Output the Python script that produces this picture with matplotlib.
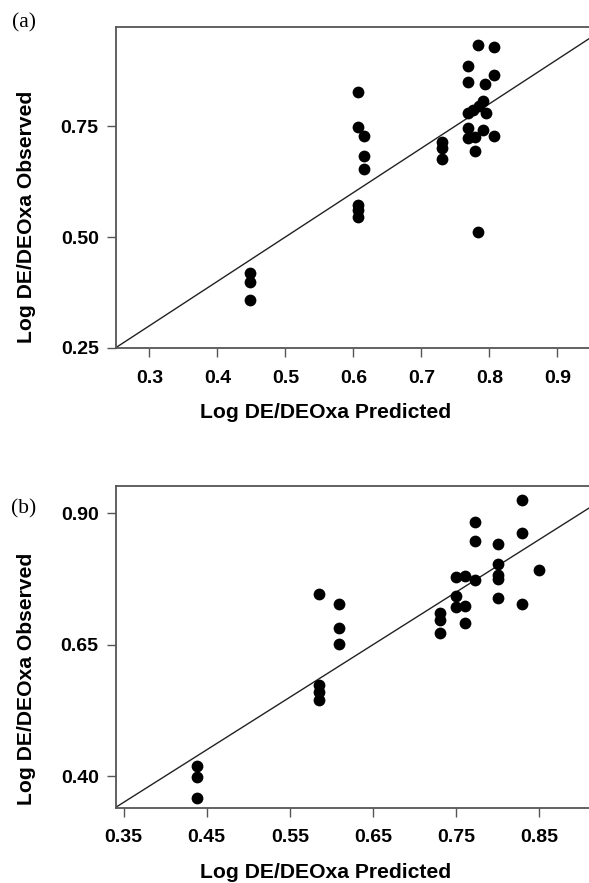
import matplotlib
matplotlib.use("Agg")
import matplotlib.pyplot as plt

# panel (a): predicted vs observed
pred_a = [0.448, 0.448, 0.448,
          0.607, 0.607, 0.607, 0.607, 0.607,
          0.616, 0.616, 0.616,
          0.730, 0.730, 0.730,
          0.768, 0.768, 0.768, 0.768, 0.768,
          0.776, 0.779, 0.779,
          0.784, 0.784, 0.785,
          0.791, 0.791, 0.794, 0.795,
          0.807, 0.807, 0.807]
obs_a = [0.420, 0.398, 0.358,
         0.826, 0.747, 0.573, 0.561, 0.544,
         0.727, 0.682, 0.653,
         0.715, 0.700, 0.675,
         0.885, 0.849, 0.779, 0.745, 0.722,
         0.786, 0.725, 0.694,
         0.932, 0.511, 0.795,
         0.806, 0.740, 0.844, 0.779,
         0.927, 0.865, 0.728]

# panel (b)
pred_b = [0.439, 0.439, 0.439,
          0.585, 0.585, 0.585, 0.585,
          0.609, 0.609, 0.609,
          0.731, 0.731, 0.731,
          0.750, 0.750, 0.750,
          0.761, 0.761, 0.761,
          0.773, 0.773, 0.773,
          0.801, 0.801, 0.801, 0.801, 0.801,
          0.829, 0.829, 0.829,
          0.850]
obs_b = [0.419, 0.398, 0.359,
         0.746, 0.573, 0.560, 0.544,
         0.727, 0.681, 0.652,
         0.711, 0.697, 0.673,
         0.779, 0.743, 0.721,
         0.781, 0.723, 0.692,
         0.883, 0.847, 0.773,
         0.842, 0.803, 0.783, 0.776, 0.738,
         0.925, 0.862, 0.727,
         0.792]

xticks_a = [0.3, 0.4, 0.5, 0.6, 0.7, 0.8, 0.9]
yticks_a = [0.25, 0.50, 0.75]
xticks_b = [0.35, 0.45, 0.55, 0.65, 0.75, 0.85]
yticks_b = [0.40, 0.65, 0.90]

plt.rcParams['font.family'] = ['Liberation Sans', 'DejaVu Sans']

fig = plt.figure(figsize=(5.89, 8.83), dpi=100)
ax_a = fig.add_axes([0.197, 0.6059, 0.803, 0.3635])
ax_b = fig.add_axes([0.197, 0.0853, 0.803, 0.3643])

spine_col = '#555555'


def style(ax, xt, yt, xfmt, yfmt, xlim, ylim, tag, tag_y, ylab_y):
    ax.set_xlim(*xlim)
    ax.set_ylim(*ylim)
    ax.set_xticks(xt)
    ax.set_xticklabels([xfmt % v for v in xt])
    ax.set_yticks(yt)
    ax.set_yticklabels([yfmt % v for v in yt])
    ax.spines['right'].set_visible(False)
    for s in ['left', 'top', 'bottom']:
        ax.spines[s].set_color(spine_col)
        ax.spines[s].set_linewidth(1.3)
    ax.tick_params(axis='both', direction='out', length=6.5, width=1.0,
                   color=spine_col, labelsize=14)
    ax.tick_params(axis='x', pad=9)
    ax.tick_params(axis='y', pad=6)
    for lab in ax.get_xticklabels() + ax.get_yticklabels():
        lab.set_fontweight('bold')
    xl = ax.set_xlabel('Log DE/DEOxa Predicted', fontsize=15.2, fontweight='bold')
    xl.set_va('center')
    ax.xaxis.set_label_coords(0.444, -0.202)
    yl = ax.set_ylabel('Log DE/DEOxa Observed', fontsize=15.2, fontweight='bold')
    yl.set_va('center')
    ax.yaxis.set_label_coords(-0.19, ylab_y)
    ax.axline((0, 0), (1, 1), color='#222222', lw=1.0, zorder=1)
    ax.text(-0.195, tag_y, tag, transform=ax.transAxes,
            fontsize=15.5, family=['Liberation Serif', 'DejaVu Serif'],
            ha='center', va='center')


ax_a.scatter(pred_a, obs_a, s=72, color='black', zorder=3, linewidths=0)
style(ax_a, xticks_a, yticks_a, '%.1f', '%.2f', (0.251, 0.9466), (0.25, 0.973),
      '(a)', 1.012, 0.408)

ax_b.scatter(pred_b, obs_b, s=72, color='black', zorder=3, linewidths=0)
style(ax_b, xticks_b, yticks_b, '%.2f', '%.2f', (0.341, 0.91), (0.340, 0.952),
      '(b)', 0.930, 0.40)

fig.savefig('out.png', dpi=100)
